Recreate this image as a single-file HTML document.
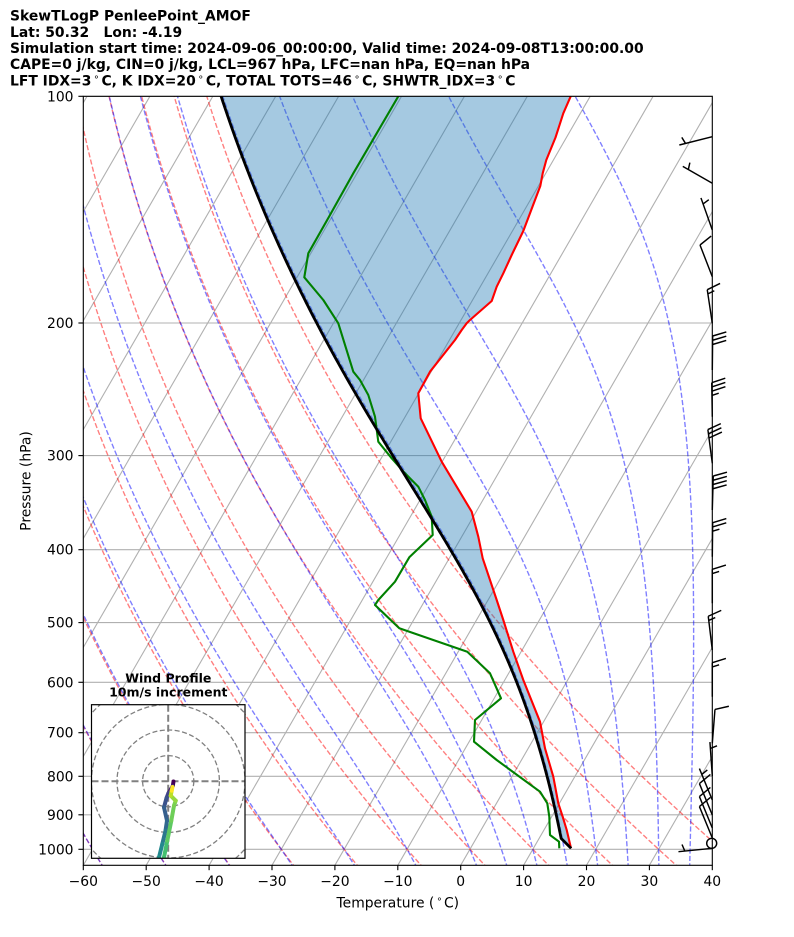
<!DOCTYPE html>
<html><head><meta charset="utf-8">
<style>
html,body{margin:0;padding:0;background:#fff;}
svg{display:block;}
text{font-family:"DejaVu Sans","Liberation Sans",sans-serif;fill:#000;}
</style></head>
<body>
<svg id="s" width="794" height="937" viewBox="0 0 794 937" xmlns="http://www.w3.org/2000/svg">
<defs>
<clipPath id="pc"><rect x="83.3" y="96.3" width="629" height="769"/></clipPath>
<clipPath id="hc"><rect x="91.5" y="704.7" width="153.5" height="153.6"/></clipPath>
</defs>
<rect width="794" height="937" fill="#fff"/>

<g font-weight="bold" font-size="13.9">
<text x="10" y="20.6">SkewTLogP PenleePoint_AMOF</text>
<text x="10" y="36.8">Lat: 50.32</text><text x="103.5" y="36.8">Lon: -4.19</text>
<text x="10" y="53">Simulation start time: 2024-09-06_00:00:00, Valid time: 2024-09-08T13:00:00.00</text>
<text x="10" y="69.2">CAPE=0 j/kg, CIN=0 j/kg, LCL=967 hPa, LFC=nan hPa, EQ=nan hPa</text>
<text x="10" y="85.4">LFT IDX=3<tspan font-weight="normal" font-size="9.7" dx="2" dy="-5.5">∘</tspan><tspan dx="2" dy="5.5">C, K IDX=20</tspan><tspan font-weight="normal" font-size="9.7" dx="2" dy="-5.5">∘</tspan><tspan dx="2" dy="5.5">C, TOTAL TOTS=46</tspan><tspan font-weight="normal" font-size="9.7" dx="2" dy="-5.5">∘</tspan><tspan dx="2" dy="5.5">C, SHWTR_IDX=3</tspan><tspan font-weight="normal" font-size="9.7" dx="2" dy="-5.5">∘</tspan><tspan dx="2" dy="5.5">C</tspan></text>
</g>

<g clip-path="url(#pc)">
 <g stroke="#b0b0b0" stroke-width="1.1">
  <line x1="83.3" x2="712.3" y1="96.3" y2="96.3"/>
  <line x1="83.3" x2="712.3" y1="323.0" y2="323.0"/>
  <line x1="83.3" x2="712.3" y1="455.6" y2="455.6"/>
  <line x1="83.3" x2="712.3" y1="549.7" y2="549.7"/>
  <line x1="83.3" x2="712.3" y1="622.6" y2="622.6"/>
  <line x1="83.3" x2="712.3" y1="682.3" y2="682.3"/>
  <line x1="83.3" x2="712.3" y1="732.7" y2="732.7"/>
  <line x1="83.3" x2="712.3" y1="776.3" y2="776.3"/>
  <line x1="83.3" x2="712.3" y1="814.8" y2="814.8"/>
  <line x1="83.3" x2="712.3" y1="849.3" y2="849.3"/>
  <line x1="-357.0" y1="865.3" x2="87.0" y2="96.3"/>
  <line x1="-294.1" y1="865.3" x2="149.9" y2="96.3"/>
  <line x1="-231.2" y1="865.3" x2="212.8" y2="96.3"/>
  <line x1="-168.3" y1="865.3" x2="275.7" y2="96.3"/>
  <line x1="-105.4" y1="865.3" x2="338.6" y2="96.3"/>
  <line x1="-42.5" y1="865.3" x2="401.5" y2="96.3"/>
  <line x1="20.4" y1="865.3" x2="464.4" y2="96.3"/>
  <line x1="83.3" y1="865.3" x2="527.3" y2="96.3"/>
  <line x1="146.2" y1="865.3" x2="590.2" y2="96.3"/>
  <line x1="209.1" y1="865.3" x2="653.1" y2="96.3"/>
  <line x1="272.0" y1="865.3" x2="716.0" y2="96.3"/>
  <line x1="334.9" y1="865.3" x2="778.9" y2="96.3"/>
  <line x1="397.8" y1="865.3" x2="841.8" y2="96.3"/>
  <line x1="460.7" y1="865.3" x2="904.7" y2="96.3"/>
  <line x1="523.6" y1="865.3" x2="967.6" y2="96.3"/>
  <line x1="586.5" y1="865.3" x2="1030.5" y2="96.3"/>
  <line x1="649.4" y1="865.3" x2="1093.4" y2="96.3"/>
 </g>
 <g id="dry" stroke="#ff0000" stroke-opacity="0.5" fill="none" stroke-width="1.39" stroke-dasharray="5.14 2.22"></g>
 <g id="moist" stroke="#0000ff" stroke-opacity="0.5" fill="none" stroke-width="1.39" stroke-dasharray="5.14 2.22"></g>
 <path id="fill" fill="#1f77b4" fill-opacity="0.4" stroke="none" d=""/>
 <polyline fill="none" stroke="#ff0000" stroke-width="2.1" stroke-linejoin="round" points="572.9,91 570.7,96.3 563.3,113.3 555.5,137.5 546.3,160 542.7,173.3 540.3,186 523.3,231 511.7,255 503.3,273.3 496.7,286.7 491.7,301 470,320 466.7,323.3 461.7,330 455,340 430,371.7 418.3,393.3 420.7,418.3 441.7,461.7 471.7,511.7 478.3,536.7 482.7,558.3 496.7,600 503.3,620 513.3,651.7 523.3,680 540,721.7 545,748.3 553.3,776.7 558.3,803.3 562.7,816.7 566.7,830 571,848.3"/>
 <polyline fill="none" stroke="#008000" stroke-width="2.1" stroke-linejoin="round" points="400.9,92 398.3,96.3 376.7,133.3 353.3,173.3 330,215 308.3,253.3 304.3,277.3 323.3,300 338.3,323.3 353.3,371.7 360,380 368.3,395 375,416.7 378.3,441.7 391.7,458.3 405,473.3 418.3,486.7 425,500 431.7,516.7 432.7,535 409.3,557.3 395,581.7 378.3,600 375,605 399.3,628.3 467.3,651.7 490,673.3 501,698.3 475,720 474,741.7 496.7,760 540,791.7 547.3,803.3 549.3,816.7 550,835 559,841.7 559.3,848.3"/>
 <path id="parcel" fill="none" stroke="#000" stroke-width="2.8" stroke-linejoin="round" d=""/>
</g>

<rect x="83.3" y="96.3" width="629" height="769" fill="none" stroke="#000" stroke-width="1.11"/>

<g stroke="#000" stroke-width="1.11">
 <line x1="83.3" x2="83.3" y1="865.3" y2="870.2"/>
 <line x1="146.2" x2="146.2" y1="865.3" y2="870.2"/>
 <line x1="209.1" x2="209.1" y1="865.3" y2="870.2"/>
 <line x1="272.0" x2="272.0" y1="865.3" y2="870.2"/>
 <line x1="334.9" x2="334.9" y1="865.3" y2="870.2"/>
 <line x1="397.8" x2="397.8" y1="865.3" y2="870.2"/>
 <line x1="460.7" x2="460.7" y1="865.3" y2="870.2"/>
 <line x1="523.6" x2="523.6" y1="865.3" y2="870.2"/>
 <line x1="586.5" x2="586.5" y1="865.3" y2="870.2"/>
 <line x1="649.4" x2="649.4" y1="865.3" y2="870.2"/>
 <line x1="712.3" x2="712.3" y1="865.3" y2="870.2"/>
 <line x1="78.4" x2="83.3" y1="96.3" y2="96.3"/>
 <line x1="78.4" x2="83.3" y1="323.0" y2="323.0"/>
 <line x1="78.4" x2="83.3" y1="455.6" y2="455.6"/>
 <line x1="78.4" x2="83.3" y1="549.7" y2="549.7"/>
 <line x1="78.4" x2="83.3" y1="622.6" y2="622.6"/>
 <line x1="78.4" x2="83.3" y1="682.3" y2="682.3"/>
 <line x1="78.4" x2="83.3" y1="732.7" y2="732.7"/>
 <line x1="78.4" x2="83.3" y1="776.3" y2="776.3"/>
 <line x1="78.4" x2="83.3" y1="814.8" y2="814.8"/>
 <line x1="78.4" x2="83.3" y1="849.3" y2="849.3"/>
</g>

<g font-size="13.9" text-anchor="middle">
 <text x="83.3" y="886">−60</text>
 <text x="146.2" y="886">−50</text>
 <text x="209.1" y="886">−40</text>
 <text x="272.0" y="886">−30</text>
 <text x="334.9" y="886">−20</text>
 <text x="397.8" y="886">−10</text>
 <text x="460.7" y="886">0</text>
 <text x="523.6" y="886">10</text>
 <text x="586.5" y="886">20</text>
 <text x="649.4" y="886">30</text>
 <text x="712.3" y="886">40</text>
 <text x="397.8" y="907.5">Temperature (<tspan font-size="9.7" dx="2" dy="-5.5">∘</tspan><tspan dx="1.5" dy="5.5">C)</tspan></text>
</g>
<g font-size="13.9" text-anchor="end">
 <text x="73.5" y="101.3">100</text>
 <text x="73.5" y="328.0">200</text>
 <text x="73.5" y="460.6">300</text>
 <text x="73.5" y="554.7">400</text>
 <text x="73.5" y="627.6">500</text>
 <text x="73.5" y="687.3">600</text>
 <text x="73.5" y="737.7">700</text>
 <text x="73.5" y="781.3">800</text>
 <text x="73.5" y="819.8">900</text>
 <text x="73.5" y="854.3">1000</text>
</g>
<text font-size="13.9" text-anchor="middle" x="30.5" y="481" transform="rotate(-90 30.5 481)">Pressure (hPa)</text>

<g id="barbs" stroke="#000" stroke-width="1.45" fill="none" stroke-linecap="butt">
 <circle cx="711.7" cy="843.3" r="5" />
</g>

<!-- Hodograph inset -->
<rect x="91.5" y="704.7" width="153.5" height="153.6" fill="#fff"/>
<g clip-path="url(#hc)">
 <g fill="none" stroke="#808080" stroke-width="1.3" stroke-dasharray="5 2.5">
  <circle cx="168.2" cy="781.2" r="25.6"/>
  <circle cx="168.2" cy="781.2" r="51.2"/>
  <circle cx="168.2" cy="781.2" r="76.8"/>
  <circle cx="168.2" cy="781.2" r="102.4"/>
 </g>
 <g stroke="#808080" stroke-width="2" stroke-dasharray="7 3">
  <line x1="91.5" x2="245" y1="781.2" y2="781.2"/>
  <line x1="168.2" x2="168.2" y1="704.7" y2="858.3"/>
 </g>
 <g fill="none" stroke-width="4" stroke-linecap="round">
  <line x1="173.5" y1="781.5" x2="172.8" y2="786" stroke="#440154"/>
  <line x1="172.8" y1="786" x2="168.5" y2="793" stroke="#482475"/>
  <line x1="168.5" y1="793" x2="166.5" y2="798" stroke="#414487"/>
  <line x1="166.5" y1="798" x2="164" y2="807.3" stroke="#3b528b"/>
  <line x1="164" y1="807.3" x2="167" y2="820.7" stroke="#355f8d"/>
  <line x1="167" y1="820.7" x2="165.5" y2="830.7" stroke="#31688e"/>
  <line x1="165.5" y1="830.7" x2="162.3" y2="844" stroke="#2a788e"/>
  <line x1="162.3" y1="844" x2="159" y2="857.3" stroke="#23888e"/>
  <line x1="159" y1="857.3" x2="157.5" y2="866" stroke="#21918c"/>
  <line x1="162.5" y1="866" x2="164" y2="857.3" stroke="#35b779"/>
  <line x1="164" y1="857.3" x2="167.3" y2="840.7" stroke="#44bf70"/>
  <line x1="167.3" y1="840.7" x2="171.3" y2="820.7" stroke="#5ec962"/>
  <line x1="171.3" y1="820.7" x2="174" y2="805.7" stroke="#6ece58"/>
  <line x1="174" y1="805.7" x2="175.7" y2="800.7" stroke="#7ad151"/>
  <line x1="175.7" y1="800.7" x2="170.7" y2="795.7" stroke="#95d840"/>
  <line x1="170.7" y1="795.7" x2="171.7" y2="790.7" stroke="#bddf26"/>
  <line x1="171.7" y1="790.7" x2="172.5" y2="787" stroke="#fde725"/>
 </g>
</g>
<rect x="91.5" y="704.7" width="153.5" height="153.6" fill="none" stroke="#000" stroke-width="1.2"/>
<g font-size="12.5" font-weight="bold" text-anchor="middle">
 <text x="168.3" y="682.3">Wind Profile</text>
 <text x="168.3" y="696.4">10m/s increment</text>
</g>
</svg>

<script>
(function(){
const NS="http://www.w3.org/2000/svg";
const X0=83.3,XS=6.29,YB=849.3,YD=753,YBOT=865.3,SK=0.57735;
const yp=p=>YB+YD*Math.log10(p/1000);
const xt=(T,p)=>X0+(T+60)*XS+SK*(YBOT-yp(p));
const toPath=pts=>'M'+pts.map(q=>q[0].toFixed(2)+','+q[1].toFixed(2)).join('L');
const Rd=287.04749,Cp=1004.6662,Lv=2.50084e6,eps=0.6219569,KAP=0.28571;
function es(Tk){const c=Tk-273.15;return 6.112*Math.exp(17.67*c/(c+243.5));}
function dTdp(p,T){const e=es(T);const rs=eps*e/(p-e);return (Rd*T+Lv*rs)/(Cp+Lv*Lv*rs*eps/(Rd*T*T))/p;}
function integ(p0,T0,p1,h){
  const out=[[p0,T0]];let p=p0,T=T0;const n=Math.ceil(Math.abs(p1-p0)/h);const dp=(p1-p0)/n;
  for(let i=0;i<n;i++){const k1=dTdp(p,T),k2=dTdp(p+dp/2,T+dp/2*k1),k3=dTdp(p+dp/2,T+dp/2*k2),k4=dTdp(p+dp,T+dp*k3);
    T+=dp/6*(k1+2*k2+2*k3+k4);p+=dp;out.push([p,T]);}
  return out;}
function addPath(g,d){const e=document.createElementNS(NS,'path');e.setAttribute('d',d);g.appendChild(e);}
// dry adiabats
const gd=document.getElementById('dry');
for(let t0=-60;t0<=40;t0+=10){
  const pts=[];
  for(let i=0;i<=150;i++){const p=1060*Math.pow(95/1060,i/150);const T=(t0+273.15)*Math.pow(p/1000,KAP)-273.15;pts.push([xt(T,p),yp(p)]);}
  addPath(gd,toPath(pts));
}
// moist adiabats
const gm=document.getElementById('moist');
const mt=[-60,-50,-40,-30,-20,-10,0,5,10,15,20,25,30,35,40];
mt.forEach(t0=>{
  const up=integ(1000,t0+273.15,95,2);
  const dn=integ(1000,t0+273.15,1060,2).reverse();
  const all=dn.concat(up.slice(1));
  addPath(gm,toPath(all.map(q=>[xt(q[1]-273.15,q[0]),yp(q[0])])));
});
// parcel
const p0=997,T0=289.15,plcl=967;
const par=[];
for(let i=0;i<=10;i++){const p=p0+(plcl-p0)*i/10;par.push([p,T0*Math.pow(p/p0,KAP)]);}
const Tl=par[par.length-1][1];
const mp=integ(plcl,Tl,96,2);
mp.slice(1).forEach(q=>par.push(q));
const parPx=par.map(q=>[xt(q[1]-273.15,q[0]),yp(q[0])]);
document.getElementById('parcel').setAttribute('d',toPath(parPx));
// fill between env temp (top->bottom) and parcel (bottom->top)
const red=[[572.9,91],[570.7,96.3],[563.3,113.3],[555.5,137.5],[546.3,160],[542.7,173.3],[540.3,186],[523.3,231],[511.7,255],[503.3,273.3],[496.7,286.7],[491.7,301],[470,320],[466.7,323.3],[461.7,330],[455,340],[430,371.7],[418.3,393.3],[420.7,418.3],[441.7,461.7],[471.7,511.7],[478.3,536.7],[482.7,558.3],[496.7,600],[503.3,620],[513.3,651.7],[523.3,680],[540,721.7],[545,748.3],[553.3,776.7],[558.3,803.3],[562.7,816.7],[566.7,830],[571,848.3]];
const poly=red.concat(parPx).concat([[parPx[parPx.length-1][0],85],[575,85]]);
document.getElementById('fill').setAttribute('d',toPath(poly)+'Z');
// wind barbs
const gb=document.getElementById('barbs');
const BX=712.3;
const B=[
[136.7,679.3,145,0,1],[183.3,683.3,166.7,0,1],[230,701.7,200,0,1],[276.7,700,245,1,0],
[323.3,707.3,290,1,1],[370,712.7,333.3,3,0],[416.7,711.7,380,3,1],[463.3,707.7,428.3,3,0],
[510,713.3,475,4,0],[556.7,712.7,520,2,1],[603.3,712.3,569.7,1,1],[650,708.3,616.7,1,1],
[696.7,712.3,663,1,1],[743.3,715,709,1,0],[776,710,743,0,1],[800,699.4,768.5,0,1],
[815,699.4,783.5,1,0],[828,699.4,796.5,1,0],[838,699.4,806.5,1,0],[848.3,678.3,851.7,0,1]];
B.forEach(b=>{
  const bx=BX,by=b[0];let dx=b[1]-bx,dy=b[2]-by;const l0=Math.hypot(dx,dy);dx/=l0;dy/=l0;
  const L=34,nx=-dy,ny=dx,sp=0.125*L,fh=0.4*L,fw=0.25*L;
  let d='M'+bx.toFixed(2)+','+by.toFixed(2)+'L'+(bx+dx*L).toFixed(2)+','+(by+dy*L).toFixed(2);
  let off=L;
  for(let i=0;i<b[3];i++){const px=bx+dx*off,py=by+dy*off;
    d+='M'+px.toFixed(2)+','+py.toFixed(2)+'L'+(px+nx*fh+dx*fw/2).toFixed(2)+','+(py+ny*fh+dy*fw/2).toFixed(2);off-=sp;}
  if(b[4]){if(off===L)off-=1.5*sp;const px=bx+dx*off,py=by+dy*off;
    d+='M'+px.toFixed(2)+','+py.toFixed(2)+'L'+(px+nx*fh/2+dx*fw/4).toFixed(2)+','+(py+ny*fh/2+dy*fw/4).toFixed(2);}
  addPath(gb,d);
});
})();
</script>
</body></html>
